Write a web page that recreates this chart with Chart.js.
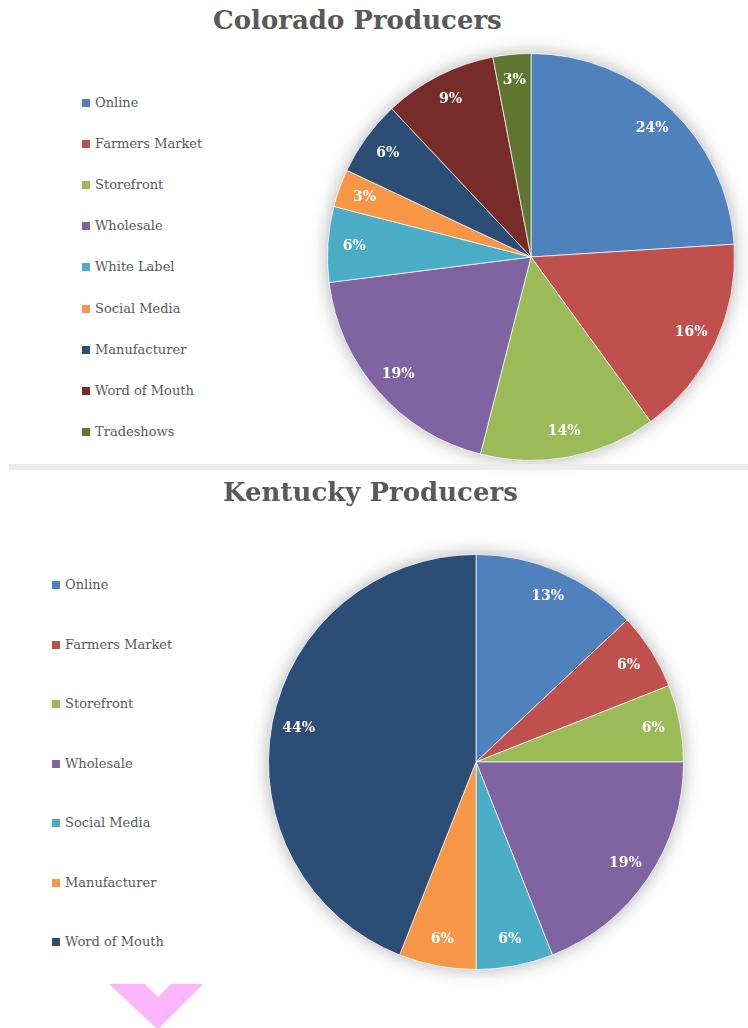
<!DOCTYPE html>
<html lang="en">
<head>
<meta charset="utf-8">
<title>Producers</title>
<script src="https://cdn.jsdelivr.net/npm/chart.js@4.4.1/dist/chart.umd.min.js"></script>
<style>
    body {
        margin: 0;
        width: 748px;
        height: 1028px;
        position: relative;
        overflow: hidden;
        background: #fff;
        font-family: 'DejaVu Serif', serif;
    }
    .titulo {
        position: absolute;
        margin: 0;
        font-size: 26px;
        font-weight: bold;
        color: #595959;
        white-space: nowrap;
        line-height: 1;
    }
    .grafico {
        position: absolute;
    }
    .legenda-item {
        position: absolute;
        height: 14px;
        line-height: 14px;
        font-size: 13px;
        color: #595959;
        white-space: nowrap;
    }
    .legenda-item span {
        display: inline-block;
        width: 8px;
        height: 8px;
        margin-right: 5px;
        vertical-align: 0px;
    }
    .divisor {
        position: absolute;
        left: 9px;
        top: 464px;
        width: 739px;
        height: 6px;
        background: #ececec;
        z-index: 2;
    }
    .seta {
        position: absolute;
        left: 109px;
        top: 984px;
    }
</style>
</head>
<body>

<h1 class="titulo" id="tituloColorado" style="left:213px; top:7px;">Colorado Producers</h1>
<div id="legendaColorado"></div>
<canvas class="grafico" id="chartColorado" width="448" height="448" style="left:307px; top:33px;"></canvas>

<div class="divisor"></div>

<h1 class="titulo" id="tituloKentucky" style="left:223px; top:479px;">Kentucky Producers</h1>
<div id="legendaKentucky"></div>
<canvas class="grafico" id="chartKentucky" width="456" height="456" style="left:248px; top:534px;"></canvas>

<svg class="seta" width="94" height="44" viewBox="0 0 94 44">
    <polygon points="0,0 36,0 49,13 62,0 94,0 50,44 47,44" fill="#ffb5fc"/>
</svg>

<script>
// Dados - Colorado
const categoriasColorado = ['Online', 'Farmers Market', 'Storefront', 'Wholesale', 'White Label',
    'Social Media', 'Manufacturer', 'Word of Mouth', 'Tradeshows'];
const valoresColorado = [24, 16, 14, 19, 6, 3, 6, 9, 3];
const coresColorado = ['#4f81bd', '#c0504d', '#9bbb59', '#8064a2', '#4bacc6',
    '#f79646', '#2c4d75', '#772c2a', '#5f7530'];

// Dados - Kentucky
const categoriasKentucky = ['Online', 'Farmers Market', 'Storefront', 'Wholesale',
    'Social Media', 'Manufacturer', 'Word of Mouth'];
const valoresKentucky = [13, 6, 6, 19, 6, 6, 44];
const coresKentucky = ['#4f81bd', '#c0504d', '#9bbb59', '#8064a2',
    '#4bacc6', '#f79646', '#2c4d75'];

// Sombra suave em volta da pizza
const sombraPizza = {
    id: 'sombraPizza',
    beforeDatasetsDraw(chart) {
        const arco = chart.getDatasetMeta(0).data[0];
        if (!arco) return;
        const ctx = chart.ctx;
        ctx.save();
        ctx.shadowColor = 'rgba(0, 0, 0, 0.32)';
        ctx.shadowBlur = 18;
        ctx.fillStyle = '#fff';
        ctx.beginPath();
        ctx.arc(arco.x, arco.y, arco.outerRadius, 0, Math.PI * 2);
        ctx.fill();
        ctx.restore();
    }
};

// Rótulos de porcentagem dentro das fatias
const rotulosPizza = {
    id: 'rotulosPizza',
    afterDatasetsDraw(chart) {
        const ctx = chart.ctx;
        const valores = chart.data.datasets[0].data;
        ctx.save();
        ctx.font = 'bold 14px "DejaVu Serif"';
        ctx.fillStyle = '#fff';
        ctx.textAlign = 'center';
        ctx.textBaseline = 'middle';
        chart.getDatasetMeta(0).data.forEach((arco, i) => {
            const meio = (arco.startAngle + arco.endAngle) / 2;
            const r = arco.outerRadius * 0.87;
            ctx.fillText(valores[i] + '%', arco.x + Math.cos(meio) * r, arco.y + Math.sin(meio) * r);
        });
        ctx.restore();
    }
};

function criarLegenda(containerId, categorias, cores, esquerda, topo, passo) {
    const container = document.getElementById(containerId);
    categorias.forEach((nome, i) => {
        const item = document.createElement('div');
        item.className = 'legenda-item';
        item.style.left = esquerda + 'px';
        item.style.top = (topo + i * passo - 7) + 'px';
        const caixa = document.createElement('span');
        caixa.style.background = cores[i];
        item.appendChild(caixa);
        item.appendChild(document.createTextNode(nome));
        container.appendChild(item);
    });
}

function criarPizza(canvasId, categorias, valores, cores) {
    const ctx = document.getElementById(canvasId);
    return new Chart(ctx, {
        type: 'pie',
        data: {
            labels: categorias,
            datasets: [{
                data: valores,
                backgroundColor: cores,
                borderColor: 'rgba(255, 255, 255, 0.7)',
                borderWidth: 1
            }]
        },
        options: {
            responsive: false,
            animation: false,
            layout: { padding: 20 },
            plugins: {
                legend: { display: false },
                tooltip: { enabled: false }
            }
        },
        plugins: [sombraPizza, rotulosPizza]
    });
}

document.addEventListener('DOMContentLoaded', function() {
    criarLegenda('legendaColorado', categoriasColorado, coresColorado, 82, 103, 41.1);
    criarLegenda('legendaKentucky', categoriasKentucky, coresKentucky, 52, 585, 59.5);
    criarPizza('chartColorado', categoriasColorado, valoresColorado, coresColorado);
    criarPizza('chartKentucky', categoriasKentucky, valoresKentucky, coresKentucky);
});
</script>
</body>
</html>
